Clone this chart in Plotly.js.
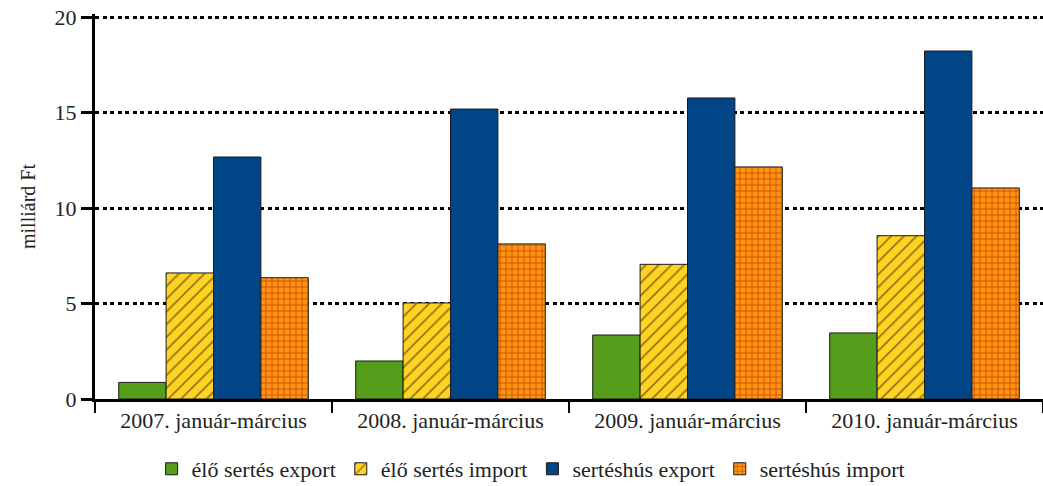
<!DOCTYPE html>
<html>
<head>
<meta charset="utf-8">
<script src="https://cdn.plot.ly/plotly-3.0.1.min.js"></script>
<style>html,body{margin:0;padding:0;background:#fff;}#chart{width:1043px;height:486px;}</style>
</head>
<body>
<div id="chart"></div>
<script>
const categories = ["2007. január-március", "2008. január-március", "2009. január-március", "2010. január-március"];
const seriesNames = ["élő sertés export", "élő sertés import", "sertéshús export", "sertéshús import"];
const eloExport = [0.87, 1.99, 3.35, 3.46];
const eloImport = [6.6, 5.03, 7.05, 8.55];
const husExport = [12.67, 15.18, 15.76, 18.22];
const husImport = [6.35, 8.12, 12.15, 11.05];
const yTicks = [0, 5, 10, 15, 20];

const font = "Liberation Serif, Times New Roman, serif";
const outline = {color: "#1a1a1a", width: 1};

const traces = [
  {type: "bar", name: seriesNames[0], x: categories, y: eloExport,
   marker: {color: "#579D1C", line: outline}},
  {type: "bar", name: seriesNames[1], x: categories, y: eloImport,
   marker: {color: "#FFD320", line: outline,
            pattern: {shape: "/", fgcolor: "#111111", bgcolor: "#FFD320", size: 9, solidity: 0.18, fillmode: "overlay"}}},
  {type: "bar", name: seriesNames[2], x: categories, y: husExport,
   marker: {color: "#004586", line: outline}},
  {type: "bar", name: seriesNames[3], x: categories, y: husImport,
   marker: {color: "#FF950E", line: outline,
            pattern: {shape: "+", fgcolor: "#A01010", bgcolor: "#FF950E", size: 6, solidity: 0.3, fillmode: "overlay"}}}
];

const layout = {
  width: 1043, height: 486,
  margin: {l: 95, r: 0, t: 14, b: 87, autoexpand: false},
  paper_bgcolor: "#ffffff", plot_bgcolor: "#ffffff",
  font: {family: font, size: 22, color: "#222222"},
  barmode: "group", bargap: 0.2, bargroupgap: 0,
  showlegend: true,
  legend: {orientation: "h", x: 0.4595, xanchor: "center", yref: "container", y: 0.035, yanchor: "middle",
           font: {family: font, size: 22, color: "#222222"}, itemwidth: 30, tracegroupgap: 0},
  xaxis: {
    type: "category", showline: true, linecolor: "#000", linewidth: 3,
    ticks: "outside", tickson: "boundaries", ticklen: 11, tickwidth: 2, tickcolor: "#000",
    showgrid: false, zeroline: false, tickfont: {family: font, size: 22, color: "#222"}
  },
  yaxis: {
    range: [0, 20.157], tickvals: yTicks, ticktext: yTicks.map(String),
    showline: true, linecolor: "#000", linewidth: 3,
    ticks: "outside", ticklen: 11, tickwidth: 3, tickcolor: "#000",
    showgrid: true, gridcolor: "#000", gridwidth: 3, griddash: "4px,3.5px",
    zeroline: false, tickfont: {family: font, size: 22, color: "#222"},
    title: {text: "milliárd Ft", font: {family: font, size: 20, color: "#222"}, standoff: 14}
  }
};

Plotly.newPlot("chart", traces, layout, {displayModeBar: false, staticPlot: true});
</script>
</body>
</html>
